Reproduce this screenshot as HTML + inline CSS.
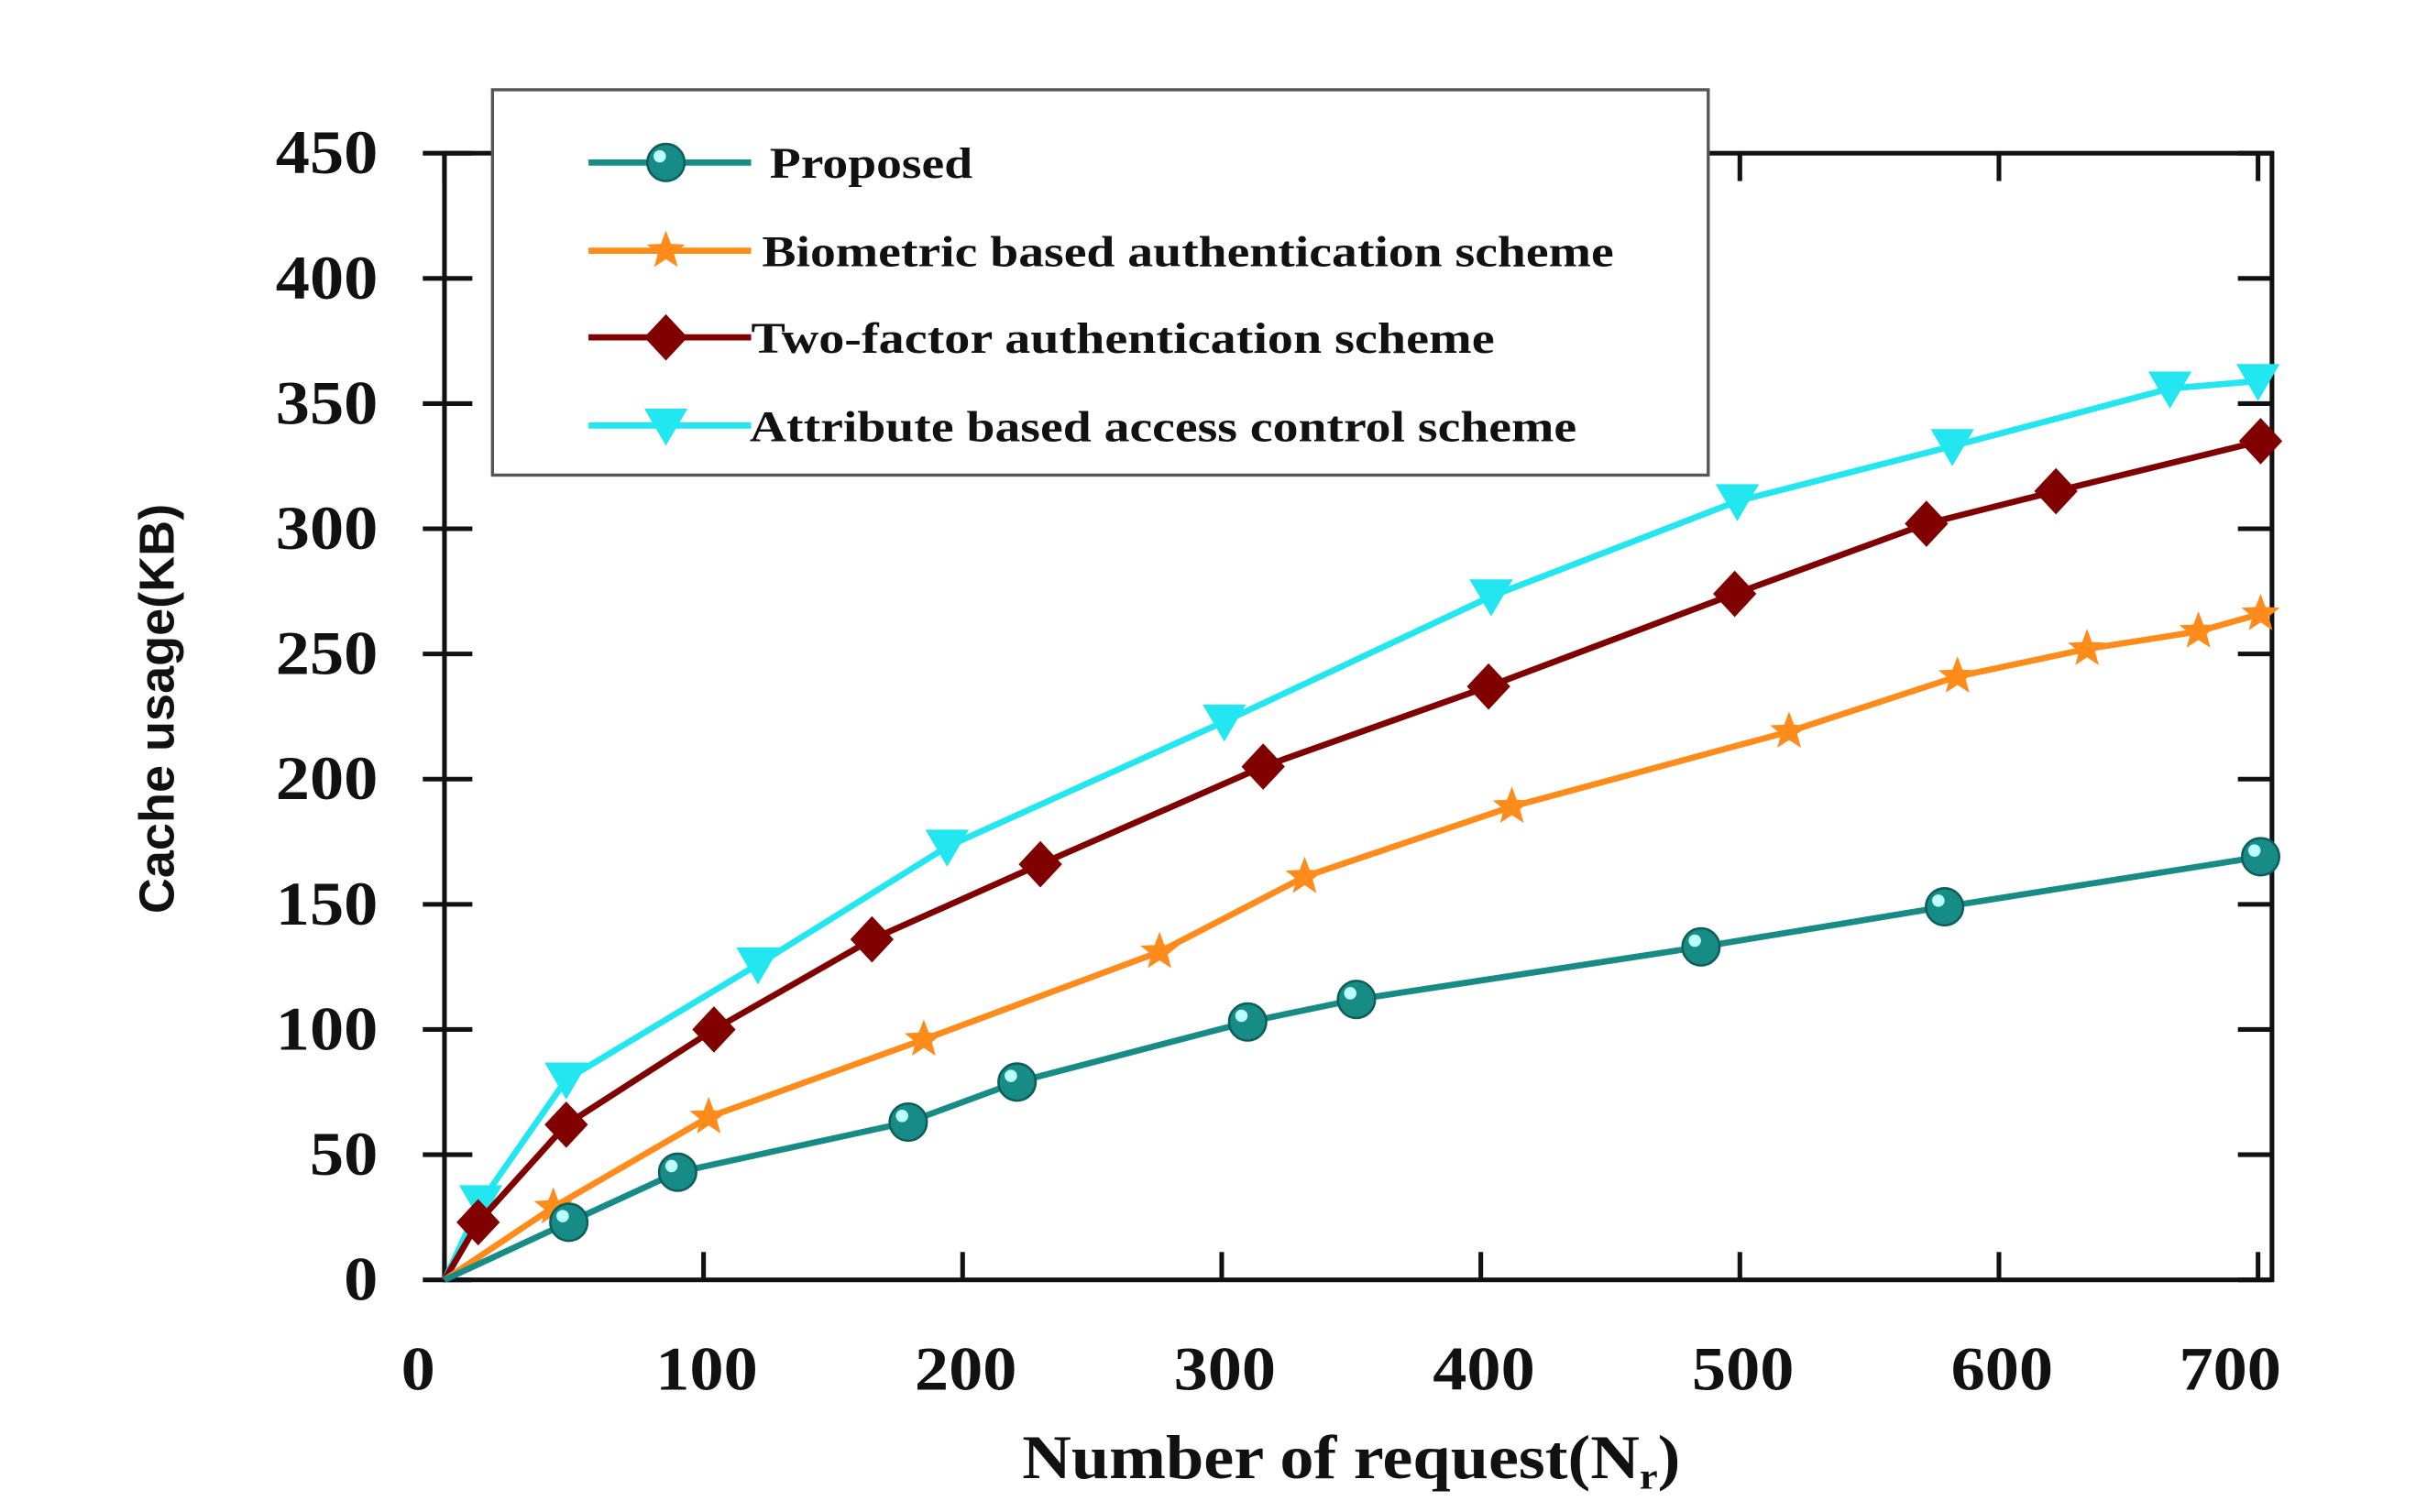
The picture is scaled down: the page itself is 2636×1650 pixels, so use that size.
<!DOCTYPE html>
<html><head><meta charset="utf-8"><style>
html,body{margin:0;padding:0;background:#fff;}
svg{display:block;}
text{font-family:"Liberation Serif",serif;font-weight:bold;fill:#111;}
</style></head><body>
<svg id="chart" width="2636" height="1650" viewBox="0 0 1560 977" preserveAspectRatio="none" xmlns="http://www.w3.org/2000/svg">
<g id="axes"></g>
<g id="series"></g>
<g id="legend"></g>
</svg>
<script>
const xTicks=[0,100,200,300,400,500,600,700];
const yTicks=[0,50,100,150,200,250,300,350,400,450];
const seriesNames=["Proposed","Biometric based authentication scheme","Two-factor authentication scheme","Attribute based access control scheme"];
const proposedX=[0,48,90,179,221,310,352,485,579,701];
const proposedY=[0,23,43,63,79,103,112,133,149,169];
const biometricX=[0,42,102,185,276,332,412,519,584,634,677,701];
const biometricY=[0,29,65,96,131,161,189,219,241,252,259,266];
const twoFactorX=[0,13,47,104,165,230,316,403,498,572,622,701];
const twoFactorY=[0,23,62,100,136,166,205,237,274,302,315,335];
const attributeX=[0,14,47,121,194,301,404,499,582,666,700];
const attributeY=[0,31,80,126,173,223,273,311,333,356,359];

const NS="http://www.w3.org/2000/svg";
const X0=287,X1=1458,Y0=827,Y1=99,R=1467;
const sx=v=>X0+(X1-X0)*v/700;
const sy=v=>Y0-(Y0-Y1)*v/450;
function mk(tag,attrs,parent){const e=document.createElementNS(NS,tag);for(const k in attrs)e.setAttribute(k,attrs[k]);parent.appendChild(e);return e;}
const axes=document.getElementById('axes'),ser=document.getElementById('series'),leg=document.getElementById('legend');

let fr=mk('rect',{x:X0,y:Y1,width:R-X0,height:Y0-Y1,fill:'none',stroke:'#111','stroke-width':3},axes);


xTicks.forEach(t=>{const x=sx(t);
 mk('line',{x1:x,x2:x,y1:Y0,y2:Y0-18,stroke:'#111','stroke-width':3},axes);
 mk('line',{x1:x,x2:x,y1:Y1,y2:Y1+18,stroke:'#111','stroke-width':3},axes);
 const s=String(t);
 const cx=t===0?270:(t===700?x-18:x+2);
 const tx=mk('text',{x:cx,y:898,'font-size':40,'text-anchor':'middle',textLength:s.length*22,lengthAdjust:'spacingAndGlyphs'},axes);tx.textContent=s;
 
 
});
yTicks.forEach(t=>{const y=sy(t);
 mk('line',{x1:X0-14,x2:X0+18,y1:y,y2:y,stroke:'#111','stroke-width':3},axes);
 mk('line',{x1:R-22,x2:R,y1:y,y2:y,stroke:'#111','stroke-width':3},axes);
 const s=String(t);
 const ty=mk('text',{x:244,y:y+13,'font-size':40,'text-anchor':'end',textLength:s.length*22,lengthAdjust:'spacingAndGlyphs'},axes);ty.textContent=s;
 
 
});
const xt=mk('text',{x:660,y:955,'font-size':40,textLength:425,lengthAdjust:'spacingAndGlyphs'},axes);
xt.innerHTML='Number of request(N<tspan font-size="24" dy="7">r</tspan><tspan dy="-7">)</tspan>';


const yt=mk('text',{x:0,y:0,'font-size':32,'text-anchor':'middle',transform:'translate(112,458) rotate(-90)',style:'font-family:"Liberation Sans",sans-serif'},axes);
yt.textContent='Cache usage(KB)';



const colors=['#178b86','#ff8c1a','#800000','#22e6f0'];
const kinds=['circle','star','diamond','tri'];
function marker(kind,x,y,c,p){
 if(kind==='circle'){const g=mk('g',{},p);mk('circle',{cx:x,cy:y,r:12,fill:c,stroke:'#0d5e5a','stroke-width':1.5},g);mk('circle',{cx:x-4,cy:y-4,r:4,fill:'#bff'},g);return g;}
 if(kind==='star'){let pts=[];for(let i=0;i<10;i++){const r=i%2?5.5:13,a=-Math.PI/2+i*Math.PI/5;pts.push((x+r*Math.cos(a)).toFixed(1)+','+(y+r*Math.sin(a)).toFixed(1));}return mk('polygon',{points:pts.join(' '),fill:c},p);}
 if(kind==='diamond')return mk('polygon',{points:`${x},${y-15} ${x+14},${y} ${x},${y+15} ${x-14},${y}`,fill:c},p);
 return mk('polygon',{points:`${x-14},${y-11} ${x+14},${y-11} ${x},${y+13}`,fill:c},p);
}
const allX=[proposedX,biometricX,twoFactorX,attributeX],allY=[proposedY,biometricY,twoFactorY,attributeY];
const snames=['proposed','biometric','two-factor','attribute'];
[3,2,1,0].forEach(i=>{
 const g=mk('g',{},ser);
 
 
 const pts=allX[i].map((v,j)=>sx(v)+','+sy(allY[i][j])).join(' ');
 const l=mk('polyline',{points:pts,fill:'none',stroke:colors[i],'stroke-width':4},g);
 
 
 allX[i].forEach((v,j)=>{if(j===0)return;const m=marker(kinds[i],sx(v),sy(allY[i][j]),colors[i],g);
  
  });
});

const lb=mk('rect',{x:318,y:58,width:785,height:249,fill:'#fff',stroke:'#555','stroke-width':2},leg);


const ly=[105,162,218,275],lx=[497,492,485,484],lw=[131,550,480,534];
seriesNames.forEach((n,i)=>{
 const g=mk('g',{},leg);
 
 
 mk('line',{x1:380,x2:485,y1:ly[i],y2:ly[i],stroke:colors[i],'stroke-width':4},g);
 marker(kinds[i],430,ly[i],colors[i],g);
 const t=mk('text',{x:lx[i],y:ly[i]+10,'font-size':28,textLength:lw[i],lengthAdjust:'spacingAndGlyphs'},g);t.textContent=n;
});
</script>
</body></html>
